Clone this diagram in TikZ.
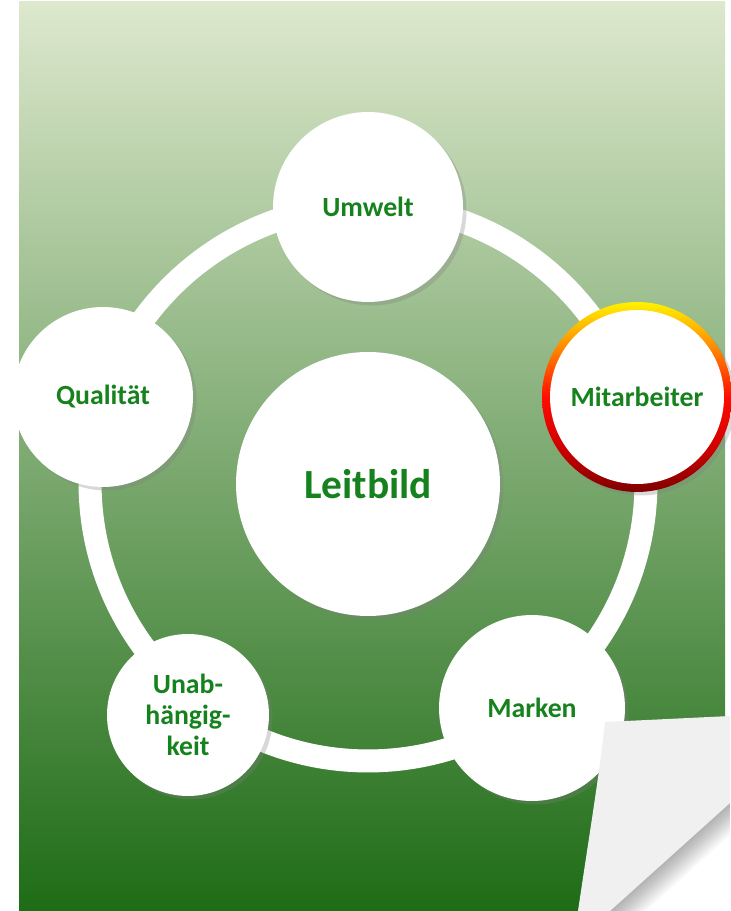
\documentclass[tikz,border=0pt]{standalone}
\usepackage{xcolor}
\usepackage{tikz}
\usepackage{fontspec}
\setmainfont{Carlito}
\usetikzlibrary{shadows, positioning}

\definecolor{leafgreen}{RGB}{22,130,30}
\definecolor{paletop}{RGB}{221,232,205}
\definecolor{midgreen}{RGB}{136,180,108}
\definecolor{darkgreen}{RGB}{30,108,22}
\definecolor{curlgray}{RGB}{240,240,240}

\pgfdeclareverticalshading{rimshade}{100bp}{color(0bp)=(red!50!black); color(25bp)=(red!50!black);
  color(36bp)=(red!80!black); color(50bp)=(red!90!orange); color(62bp)=(orange);
  color(75bp)=(yellow!90!orange); color(100bp)=(yellow!90!orange)}

\begin{document}
\begin{tikzpicture}[x=0.02cm,y=-0.02cm,
        bubble shadow/.style={drop shadow={opacity=0.3,shadow xshift=2pt,shadow yshift=-2pt}}]
        \useasboundingbox (0,0) rectangle (730,911);
        % page
        \shade[top color=paletop, middle color=midgreen, bottom color=darkgreen] (19,2) rectangle (725,911);
        \coordinate (hub) at (368,483);
        \draw[white, line width=0.46cm] (hub) circle[radius=5.56cm];
        % coloured rim
        \path[shading=rimshade, bubble shadow] (637,397) circle[radius=1.9cm];
        \begin{scope}[every node/.style={circle,fill=white,text=leafgreen,align=center,
                      font=\bfseries\fontsize{15.8}{17.8}\selectfont}]
          \node[minimum size=5.28cm,bubble shadow,font=\bfseries\fontsize{23.6}{28}\selectfont] (leit) at (368,484) {Leitbild};
          \node[minimum size=3.8cm,bubble shadow] (umwelt) at (368,207) {Umwelt};
          \node[minimum size=3.48cm] (mitarb) at (637,397) {Mitarbeiter};
          \node[minimum size=3.72cm,bubble shadow] (marken) at (532,708) {Marken};
          \node[minimum size=3.24cm,bubble shadow] (unab) at (188,715) {Unab-\\hängig-\\keit};
          \node[minimum size=3.6cm,bubble shadow] (quali) at (103,397) {Qualität};
        \end{scope}
        % curl
        \begin{scope}
          \clip (730,800) -- (730,911) -- (606,911) -- cycle;
          \fill[white] (730,800) -- (730,911) -- (606,911) -- cycle;
          \foreach \w in {3,6,...,48}
            \draw[black,opacity=0.018,line width=\w*0.02cm] (730,803) -- (610,911);
        \end{scope}
        \fill[curlgray] (605,722) -- (730,716) -- (730,803) -- (610,911) -- (578,911)
              .. controls (590,830) and (600,770) .. (605,722) -- cycle;
      \end{tikzpicture}
\end{document}
